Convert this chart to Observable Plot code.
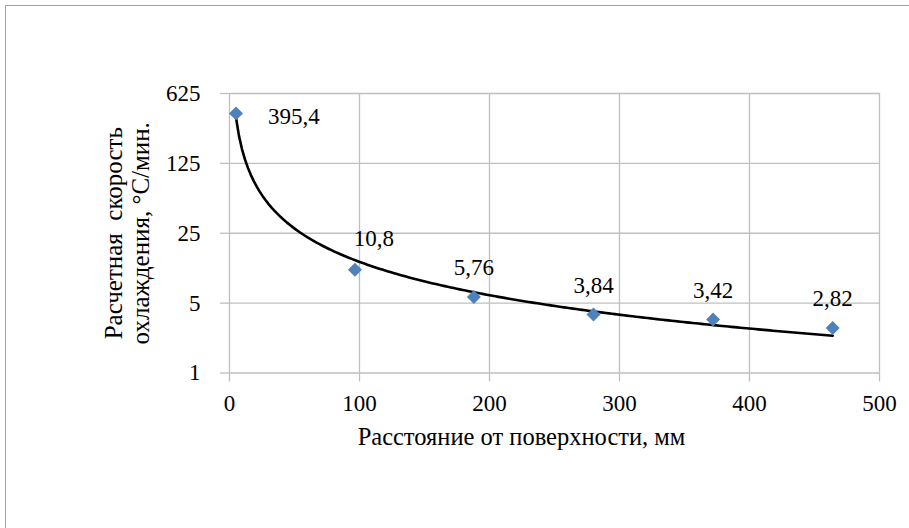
<!DOCTYPE html>
<html>
<head>
<meta charset="utf-8">
<script src="https://cdn.jsdelivr.net/npm/d3@7"></script>
<script src="https://cdn.jsdelivr.net/npm/@observablehq/plot@0.6"></script>
<style>
  html, body { margin: 0; padding: 0; background: #fff; }
  #wrap { position: relative; width: 909px; height: 528px; overflow: hidden; }
  #border { position: absolute; left: 5px; top: 5px; width: 910px; height: 530px;
            border-top: 1.5px solid #a3a3a3; border-left: 1.5px solid #a3a3a3; }
  #chart { position: absolute; left: 0; top: 0; }
  #chart svg, #chart svg text { font-family: "Liberation Serif", "Tinos", "Times New Roman", "DejaVu Serif", "Noto Serif", serif !important; }
</style>
</head>
<body>
<div id="wrap"><div id="border"></div><div id="chart"></div></div>
<script>
// Data
const distances = [5, 96.5, 188, 280, 372, 464];            // mm from surface
const rates = [395.4, 10.8, 5.76, 3.84, 3.42, 2.82];         // °C/min
const rateLabels = ["395,4", "10,8", "5,76", "3,84", "3,42", "2,82"];
const xTicks = [0, 100, 200, 300, 400, 500];
const yTicks = [1, 5, 25, 125, 625];
const xTitle = "Расстояние от поверхности, мм";
const yTitle = "Расчетная\u00a0 скорость\nохлаждения, °С/мин.";

const points = distances.map((x, i) => ({x, y: rates[i], label: rateLabels[i], i}));

// Power trendline (least squares in log-log space), as in the spreadsheet trendline
const lx = distances.map(Math.log), ly = rates.map(Math.log);
const mx = d3.mean(lx), my = d3.mean(ly);
const b = d3.sum(lx, (v, i) => (v - mx) * (ly[i] - my)) / d3.sum(lx, v => (v - mx) ** 2);
const a = Math.exp(my - b * mx);
const [x0, x1] = d3.extent(distances);
const trend = d3.range(0, 201).map(k => {
  const x = x0 + (x1 - x0) * k / 200;
  return {x, y: a * Math.pow(x, b)};
});

const FONT = "'Liberation Serif', Tinos, 'Times New Roman', 'DejaVu Serif', serif";
const FS = 23;
const gridStyle = {stroke: "#bfbfbf", strokeOpacity: 1, strokeWidth: 1.3};

const chart = Plot.plot({
  width: 909,
  height: 528,
  marginLeft: 229,
  marginRight: 30,
  marginTop: 93,
  marginBottom: 155.5,
  style: {fontFamily: FONT, fontSize: FS + "px", color: "#000", background: "transparent", overflow: "visible"},
  x: {domain: [0, 500]},
  y: {type: "log", base: 5, domain: [1, 625]},
  marks: [
    Plot.gridX(xTicks, gridStyle),
    Plot.gridY(yTicks, gridStyle),
    Plot.axisX(xTicks, {tickSize: 9, tickPadding: 13, stroke: "#bfbfbf", strokeWidth: 1.3, fill: "#000", fontSize: FS, tickFormat: d => String(d), label: null}),
    Plot.axisY(yTicks, {tickSize: 9, tickPadding: 20, stroke: "#bfbfbf", strokeWidth: 1.3, fill: "#000", fontSize: FS, tickFormat: d => String(d), label: null}),
    Plot.line(trend, {x: "x", y: "y", stroke: "#000", strokeWidth: 2.6, curve: "linear"}),
    Plot.dot(points, {x: "x", y: "y", symbol: "diamond2", r: 6.3, fill: "#4f81bd", stroke: null}),
    Plot.text(points, {filter: d => d.i === 0, x: "x", y: "y", text: "label", textAnchor: "start", dx: 32, dy: 3, fill: "#000", fontSize: FS}),
    Plot.text(points, {filter: d => d.i === 1, x: "x", y: "y", text: "label", dx: 19, dy: -31, fill: "#000", fontSize: FS}),
    Plot.text(points, {filter: d => d.i > 1, x: "x", y: "y", text: "label", dy: -29, fill: "#000", fontSize: FS}),
    Plot.text([xTitle], {frameAnchor: "bottom", text: d => d, textAnchor: "middle", lineAnchor: "middle", dx: -33, dy: 64.5, fill: "#000", fontSize: 24.5}),
    Plot.text([yTitle], {frameAnchor: "left", text: d => d, rotate: -90, textAnchor: "middle", lineAnchor: "middle", dx: -102.5, lineHeight: 1.08, fill: "#000", fontSize: 25})
  ]
});
document.getElementById("chart").appendChild(chart);
</script>
</body>
</html>
